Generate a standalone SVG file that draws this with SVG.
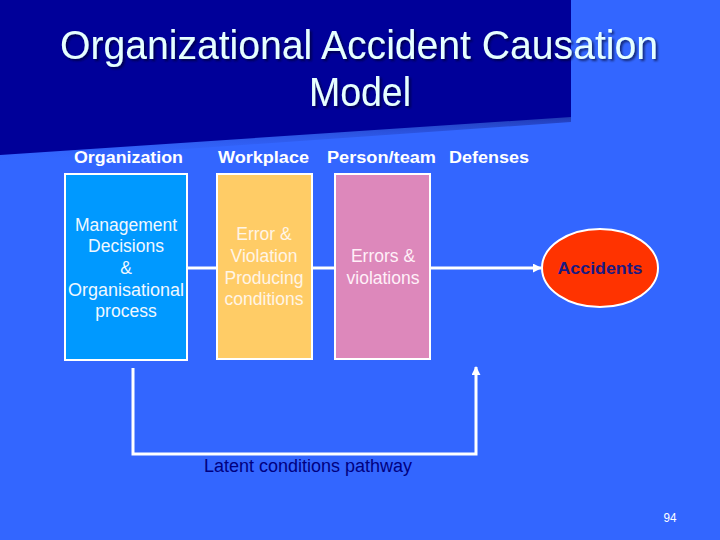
<svg xmlns="http://www.w3.org/2000/svg" width="720" height="540" viewBox="0 0 720 540">
<style>
.hdr{font-family:"Liberation Sans",Arial,sans-serif;font-weight:bold;font-size:16px;fill:#ffffff}
.box{stroke:#ffffff;stroke-width:2}
.bt{font-family:"Liberation Sans",Arial,sans-serif;font-size:17.5px;text-anchor:middle}
.conn{stroke:#ffffff;stroke-width:3;fill:none}
.title{font-family:"Liberation Sans Narrow","Liberation Sans",Arial,sans-serif;font-size:41px;fill:#E6FFFF;text-anchor:middle}
</style>
<defs>
<marker id="ah" viewBox="0 0 10 10" refX="9" refY="5" markerWidth="3" markerHeight="3" orient="auto">
<path d="M0,0 L10,5 L0,10 z" fill="#ffffff"/>
</marker>
<linearGradient id="sh" x1="0" y1="0" x2="0" y2="1">
<stop offset="0" stop-color="#1a2a99" stop-opacity="0.9"/>
<stop offset="1" stop-color="#3366ff" stop-opacity="0"/>
</linearGradient>
<filter id="ds" x="-5%" y="-20%" width="110%" height="140%">
<feDropShadow dx="2" dy="2" stdDeviation="0.8" flood-color="#000022" flood-opacity="0.6"/>
</filter>
</defs>
<rect width="720" height="540" fill="#3366FF"/>
<polygon points="0,148 571,112 571,122 0,162" fill="url(#sh)"/>
<polygon points="0,0 571,0 571,117 0,155" fill="#000099"/>
<g id="title" filter="url(#ds)">
<text class="title" x="359" y="59" textLength="598" lengthAdjust="spacingAndGlyphs">Organizational Accident Causation</text>
<text class="title" x="360" y="106" textLength="102" lengthAdjust="spacingAndGlyphs">Model</text>
</g>
<g id="headers">
<text class="hdr" x="74" y="163" textLength="109" lengthAdjust="spacingAndGlyphs">Organization</text>
<text class="hdr" x="218" y="163" textLength="91" lengthAdjust="spacingAndGlyphs">Workplace</text>
<text class="hdr" x="327" y="163" textLength="109" lengthAdjust="spacingAndGlyphs">Person/team</text>
<text class="hdr" x="449" y="163" textLength="80" lengthAdjust="spacingAndGlyphs">Defenses</text>
</g>
<g id="connectors">
<line class="conn" x1="187" y1="268" x2="217" y2="268"/>
<line class="conn" x1="312" y1="268" x2="335" y2="268"/>
<line class="conn" x1="430" y1="268" x2="541" y2="268" marker-end="url(#ah)"/>
<polyline class="conn" points="133,368 133,454 476,454 476,367" marker-end="url(#ah)"/>
<text x="308" y="472" font-family="Liberation Sans, Arial, sans-serif" font-size="18" fill="#000080" text-anchor="middle" textLength="208" lengthAdjust="spacingAndGlyphs">Latent conditions pathway</text>
</g>
<g id="organization">
<rect class="box" x="65" y="174" width="122" height="186" fill="#0099FF"/>
<text class="bt" x="126" y="231" fill="#F0F8FF">Management</text>
<text class="bt" x="126" y="252" fill="#F0F8FF">Decisions</text>
<text class="bt" x="126" y="274" fill="#F0F8FF">&amp;</text>
<text class="bt" x="126" y="296" fill="#F0F8FF" textLength="116" lengthAdjust="spacingAndGlyphs">Organisational</text>
<text class="bt" x="126" y="317" fill="#F0F8FF">process</text>
</g>
<g id="workplace">
<rect class="box" x="217" y="174" width="95" height="185" fill="#FFCC66"/>
<text class="bt" x="264" y="240" fill="#FFF5E6">Error &amp;</text>
<text class="bt" x="264" y="262" fill="#FFF5E6">Violation</text>
<text class="bt" x="264" y="284" fill="#FFF5E6">Producing</text>
<text class="bt" x="264" y="305" fill="#FFF5E6">conditions</text>
</g>
<g id="person">
<rect class="box" x="335" y="174" width="95" height="185" fill="#DD88BB"/>
<text class="bt" x="383" y="262" fill="#FFF0F8">Errors &amp;</text>
<text class="bt" x="383" y="284" fill="#FFF0F8">violations</text>
</g>
<g id="accidents">
<ellipse cx="600" cy="268" rx="58" ry="39" fill="#FF3300" stroke="#ffffff" stroke-width="2"/>
<text x="600" y="274" font-family="Liberation Sans, Arial, sans-serif" font-weight="bold" font-size="17" fill="#1a1a80" text-anchor="middle" textLength="85" lengthAdjust="spacingAndGlyphs">Accidents</text>
</g>
<text x="670" y="522" font-family="Liberation Sans, Arial, sans-serif" font-size="12" fill="#ffffff" text-anchor="middle" textLength="13" lengthAdjust="spacingAndGlyphs">94</text>
</svg>
